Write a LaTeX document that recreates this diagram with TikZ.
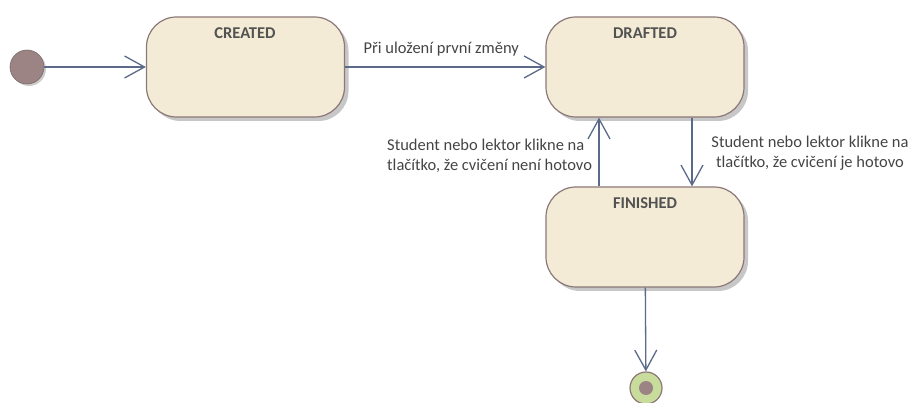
\documentclass[tikz,border=0pt]{standalone}
\usepackage{fontspec}
\setmainfont{Carlito}
\usetikzlibrary{arrows.meta,shadows}
\definecolor{statefill}{HTML}{F3EBD6}
\definecolor{stateedge}{HTML}{8C7878}
\definecolor{flow}{HTML}{5C6A8A}
\definecolor{dotfill}{HTML}{9C8484}
\definecolor{endring}{HTML}{C8DC9C}
\definecolor{txt}{HTML}{444444}
\begin{document}
\begin{tikzpicture}[x=1pt,y=-1pt,
  statebox/.style={draw=stateedge,line width=1.2pt,fill=statefill,rounded corners=30pt,
    minimum width=198pt,minimum height=100pt,inner sep=0pt,
    drop shadow={shadow xshift=4pt,shadow yshift=-4pt,fill=black!22,opacity=1}},
  title/.style={font=\fontsize{16.5}{18}\selectfont\bfseries,text=black!68,inner sep=0pt,anchor=base},
  lbl/.style={font=\fontsize{16.5}{20}\selectfont,text=txt,inner sep=0pt},
  flowline/.style={draw=flow,line width=1.3pt,-{Straight Barb[length=20pt,width=22pt,line width=1.3pt]}}]
\useasboundingbox (0,0) rectangle (910,403);
% start and end pseudo-states
\node[circle,fill=dotfill,draw=dotfill!80!black,line width=0.6pt,minimum size=34pt,inner sep=0pt,
  drop shadow={shadow xshift=2pt,shadow yshift=-2pt,fill=black!20,opacity=1}] (start) at (27,67) {};
\node[circle,fill=endring,draw=stateedge,line width=1.2pt,minimum size=32pt,inner sep=0pt] (stop) at (646,388) {};
\node[circle,fill=dotfill,minimum size=14pt,inner sep=0pt] (stopdot) at (646,388) {};
% states
\node[statebox] (created) at (245.5,67) {};
\node[statebox] (drafted) at (645,67) {};
\node[statebox] (finished) at (645,237) {};
\node[title] (createdT) at (245,39) {CREATED};
\node[title] (draftedT) at (645,39) {DRAFTED};
\node[title] (finishedT) at (645,209) {FINISHED};
% transitions
\draw[flowline] (start) -- (created);
\draw[flowline] (created) -- node[lbl,above=10pt,xshift=-4pt] (l1) {Při uložení první změny} (drafted);
\draw[flowline] (finished.north -| 599,0) -- (drafted.south -| 599,0);
\draw[flowline] (drafted.south -| 692,0) -- (finished.north -| 692,0);
\draw[flowline] (finished) -- (stop);
\node[lbl,align=left,anchor=north west] (l2) at (387,139) {Student nebo lektor klikne na\\tlačítko, že cvičení není hotovo};
\node[lbl,align=center,anchor=north] (l3) at (810,136) {Student nebo lektor klikne na\\tlačítko, že cvičení je hotovo};
\end{tikzpicture}
\end{document}
